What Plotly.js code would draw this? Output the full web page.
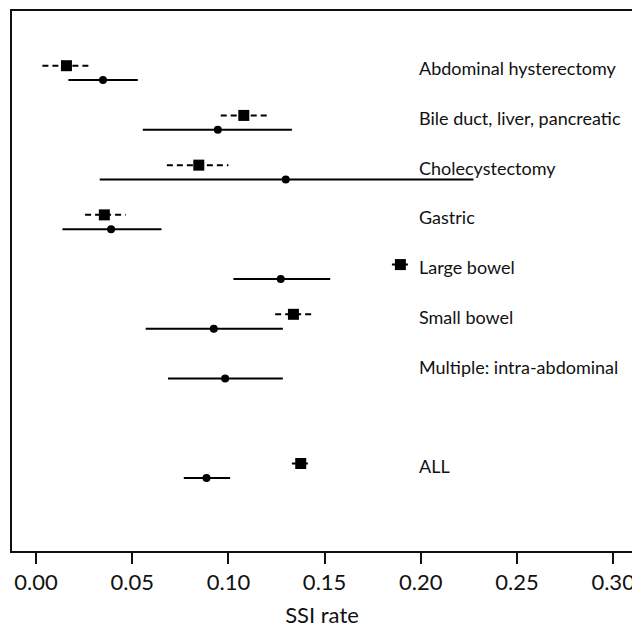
<!DOCTYPE html>
<html>
<head>
<meta charset="utf-8">
<script src="https://cdn.plot.ly/plotly-3.0.1.min.js"></script>
<style>
html, body { margin: 0; padding: 0; background: #fff; overflow: hidden; }
#chart { width: 632px; height: 628px; }
</style>
</head>
<body>
<div id="chart"></div>
<script>
// Procedure categories and their row slots (ALL is separated by an empty slot)
const categories = ['Abdominal hysterectomy', 'Bile duct, liver, pancreatic', 'Cholecystectomy', 'Gastric', 'Large bowel', 'Small bowel', 'Multiple: intra-abdominal', 'ALL'];
const rowSlot = [1, 2, 3, 4, 5, 6, 7, 9];

// Series A (squares, dashed intervals)
const squareRate = [0.0158, 0.108, 0.0846, 0.0355, 0.1894, 0.1338, null, 0.1376];
const squareLo   = [0.0033, 0.096, 0.068, 0.0255, 0.185, 0.1243, null, 0.133];
const squareHi   = [0.0281, 0.1208, 0.100, 0.0466, 0.194, 0.1447, null, 0.1413];

// Series B (circles, solid intervals)
const circleRate = [0.0348, 0.0945, 0.1298, 0.039, 0.1272, 0.0924, 0.0983, 0.0886];
const circleLo   = [0.0168, 0.0555, 0.0331, 0.0137, 0.1026, 0.057, 0.0686, 0.0768];
const circleHi   = [0.0529, 0.133, 0.2274, 0.0652, 0.1529, 0.1283, 0.1283, 0.1009];

const xTicks = [0.00, 0.05, 0.10, 0.15, 0.20, 0.25, 0.30];

const SQ_OFF = -0.05, CI_OFF = 0.24;
const FONT = 'Lato, "Open Sans", sans-serif';

function segs(lo, hi, off) {
  const xs = [], ys = [];
  lo.forEach((l, i) => {
    if (l === null) return;
    xs.push(l, hi[i], null);
    ys.push(rowSlot[i] + off, rowSlot[i] + off, null);
  });
  return {x: xs, y: ys};
}
function pts(rate, off) {
  const xs = [], ys = [];
  rate.forEach((r, i) => {
    if (r === null) return;
    xs.push(r); ys.push(rowSlot[i] + off);
  });
  return {x: xs, y: ys};
}

const sqSeg = segs(squareLo, squareHi, SQ_OFF);
const ciSeg = segs(circleLo, circleHi, CI_OFF);
const sqPts = pts(squareRate, SQ_OFF);
const ciPts = pts(circleRate, CI_OFF);

const traces = [
  {type: 'scatter', mode: 'lines', x: sqSeg.x, y: sqSeg.y, connectgaps: false,
   line: {color: '#000', width: 2, dash: '6px,4px'}, hoverinfo: 'skip'},
  {type: 'scatter', mode: 'lines', x: ciSeg.x, y: ciSeg.y, connectgaps: false,
   line: {color: '#000', width: 2}, hoverinfo: 'skip'},
  {type: 'scatter', mode: 'markers', x: sqPts.x, y: sqPts.y,
   marker: {symbol: 'square', size: 11, color: '#000'}},
  {type: 'scatter', mode: 'markers', x: ciPts.x, y: ciPts.y,
   marker: {symbol: 'circle', size: 8, color: '#000'}}
];

const annotations = categories.map((c, i) => ({
  x: 0.198, y: rowSlot[i], xref: 'x', yref: 'y', text: c, showarrow: false,
  xanchor: 'left', yanchor: 'middle',
  font: {family: FONT, size: 18, color: '#111'}
}));

const layout = {
  width: 632, height: 628,
  margin: {l: 12, r: 0, t: 11, b: 77},
  paper_bgcolor: '#fff', plot_bgcolor: '#fff',
  showlegend: false,
  font: {family: FONT, color: '#111'},
  xaxis: {
    range: [-0.0125, 0.3098],
    tickvals: xTicks, tickformat: '.2f',
    ticks: 'outside', ticklen: 11, tickwidth: 2, tickcolor: '#111',
    tickfont: {family: FONT, size: 22, color: '#111'},
    ticklabeloverflow: 'allow',
    showline: true, linewidth: 2, linecolor: '#111', mirror: true,
    showgrid: false, zeroline: false,
    title: {text: 'SSI rate', font: {family: FONT, size: 22, color: '#111'}, standoff: 17}
  },
  yaxis: {
    range: [10.71, -0.15],
    showticklabels: false, ticks: '',
    showline: true, linewidth: 2, linecolor: '#111',
    showgrid: false, zeroline: false
  },
  annotations: annotations
};

Plotly.newPlot('chart', traces, layout, {displayModeBar: false, staticPlot: true});
</script>
</body>
</html>
